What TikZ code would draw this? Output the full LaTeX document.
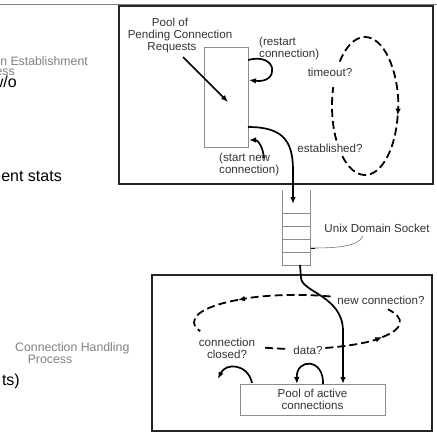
\documentclass[tikz,border=0pt]{standalone}
\usepackage{fontspec}
\setmainfont{Liberation Sans}
\usetikzlibrary{arrows.meta}
\begin{document}
\begin{tikzpicture}[x=1pt,y=-1pt,
  every node/.style={font=\fontsize{11.6}{12}\selectfont, text=black!80, inner sep=0pt},
  frame/.style={draw=black!85, line width=1.8pt},
  poolbox/.style={draw=black!45, line width=0.7pt},
  tubeline/.style={draw=black!45, line width=0.7pt},
  tip/.style={-{Latex[length=7pt,width=5.5pt]}},
  flow/.style={draw=black, line width=1.7pt, tip},
  dashloop/.style={draw=black, line width=1.8pt, dash pattern=on 8pt off 4pt},
  pointer/.style={draw=black!55, line width=0.6pt},
  big/.style={font=\fontsize{16}{18}\selectfont, text=black},
  faint/.style={font=\fontsize{12.3}{13}\selectfont, text=black!50}
]
\useasboundingbox (0,0) rectangle (437,434);
\draw[black!50, line width=0.8pt] (0,4) -- (437,4);

% left, cropped page text
\node[faint, anchor=east] (estl) at (88,61) {Connection Establishment};
\node[faint, anchor=east] (estp) at (15,71) {Process};
\node[big, anchor=east] (wo) at (17,82) {w/o};
\node[big, anchor=east] (stats) at (62,176) {ent stats};
\node[big, anchor=east] (ts) at (20,381) {ts)};
\node[faint, anchor=west] (chp1) at (15,348) {Connection Handling};
\node[faint] (chp2) at (50,359) {Process};

% frames
\node[frame, minimum width=314pt, minimum height=178pt] (topbox) at (276,95) {};
\node[frame, minimum width=280pt, minimum height=156pt] (botbox) at (292,353) {};

% top box contents
\node[poolbox, minimum width=44pt, minimum height=100pt] (pool) at (226,97) {};
\node[align=center] (pend) at (180,35) {Pool of\hspace*{20pt}\\Pending Connection\\Requests\hspace*{16pt}};
\node[anchor=west, align=left] (restart) at (259,48) {(restart\\connection)};
\node (timeout) at (330,72) {timeout?};
\node (estab) at (330,148) {established?};
\node[anchor=west, align=left] (startnew) at (219,164) {(start new\\connection)};

\coordinate (ps) at (183,57);
\coordinate (pin) at (228,102);
\draw[flow] (ps) -- (pin);
\coordinate (r1) at (248,60);
\coordinate (r2) at (249,80);
\draw[flow] (r1) .. controls (278,52) and (280,84) .. (r2);
\coordinate (s1) at (264,158);
\coordinate (s2) at (249,140);
\draw[flow] (s1) .. controls (263,147) and (258,140) .. (s2);

% top dashed loop
\draw[dashloop, tip] (365,106) ++(220:33 and 69) arc[start angle=220, end angle=368, x radius=33, y radius=69];
\draw[dashloop] (365,106) ++(368:33 and 69) arc[start angle=368, end angle=494, x radius=33, y radius=69];
\draw[dashloop] (365,106) ++(150:33 and 69) arc[start angle=150, end angle=196, x radius=33, y radius=69];

% socket
\node[minimum width=27pt, minimum height=75pt] (tube) at (296.5,227.5) {};
\draw[tubeline] (tube.north west) -- (tube.south west) -- (tube.south east) -- (tube.north east);
\foreach \yy in {213,226,239,252} \draw[tubeline] (283,\yy) -- (310,\yy);
\node (sockl) at (377,228) {Unix Domain Socket};
\coordinate (sl) at (363,236);
\coordinate (st) at (311,248);
\draw[pointer] (sl) .. controls (358,247) and (335,248) .. (st);
\draw[black, line width=1pt] (st) -- ++(4,0);

\coordinate (m1) at (248,127);
\coordinate (tin) at (293,204);
\draw[flow] (m1) .. controls (282,127) and (293,140) .. (293,170) -- (tin);

% bottom box contents
\node[poolbox, minimum width=145pt, minimum height=31pt, align=center] (active) at (312.5,399.5) {Pool of active\\connections};
\node (newconn) at (381,300) {new connection?};
\node (data) at (308,350) {data?};
\node[align=center] (closed) at (227,348) {connection\\closed?};

\draw[dashloop, tip] (297,322) ++(289:103 and 27) arc[start angle=289, end angle=235, x radius=103, y radius=27];
\draw[dashloop] (297,322) ++(235:103 and 27) arc[start angle=235, end angle=160, x radius=103, y radius=27];
\draw[dashloop] (297,322) ++(108:103 and 27) arc[start angle=108, end angle=94.5, x radius=103, y radius=27];
\draw[dashloop, tip] (297,322) ++(74:103 and 27) arc[start angle=74, end angle=34, x radius=103, y radius=27];
\draw[dashloop] (297,322) ++(34:103 and 27) arc[start angle=34, end angle=-28, x radius=103, y radius=27];

\coordinate (tout) at (300,265);
\coordinate (ain) at (343,384);
\draw[flow] (tout) -- (301,278) .. controls (302,292) and (342,296) .. (343,330) -- (ain);

\coordinate (a1) at (323,384);
\coordinate (a2) at (297,384);
\draw[flow] (a1) .. controls (324,358) and (296,358) .. (a2);
\coordinate (b1) at (252,383);
\coordinate (b2) at (218,379);
\draw[flow] (b1) .. controls (248,364) and (226,362) .. (b2);
\end{tikzpicture}
\end{document}
